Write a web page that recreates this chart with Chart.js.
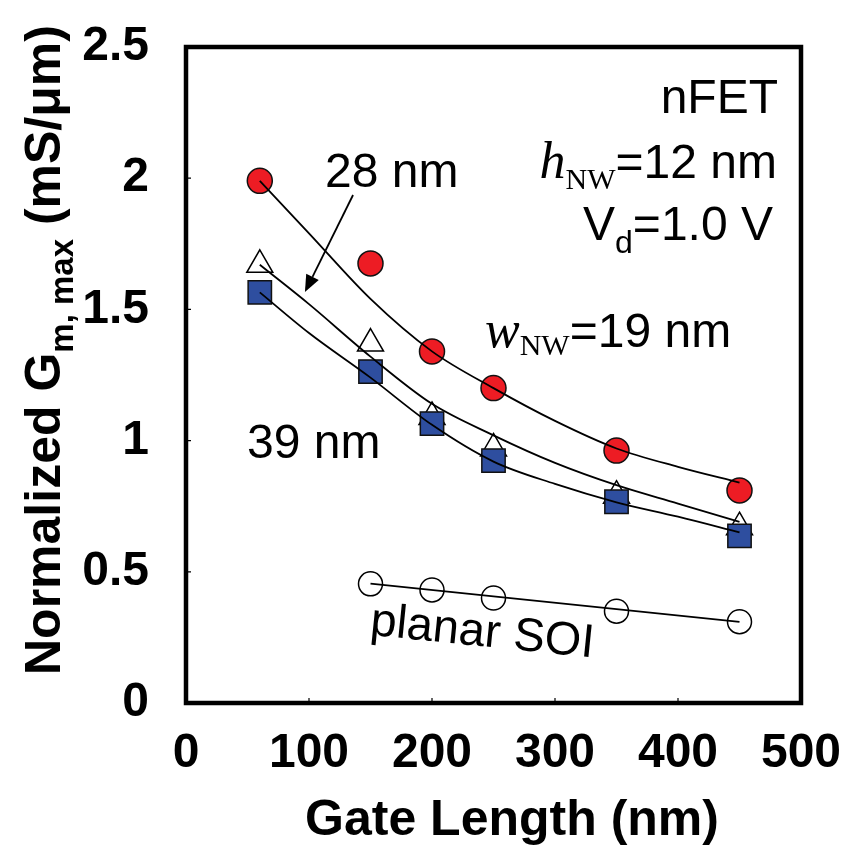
<!DOCTYPE html>
<html>
<head>
<meta charset="utf-8">
<script src="https://cdn.jsdelivr.net/npm/chart.js@4.4.1/dist/chart.umd.min.js"></script>
<style>
  html, body { margin: 0; padding: 0; background: #fff; }
  canvas { display: block; }
</style>
</head>
<body>
<canvas id="gmChart" width="851" height="852"></canvas>
<script>
// measured points (gate length in nm, Gm,max in mS/um)
const gateLength = [60, 150, 200, 250, 350, 450]
const gmW19 = [1.99, 1.675, 1.34, 1.20, 0.962, 0.81]
const gmW28 = [1.67, 1.37, 1.09, 0.97, 0.79, 0.67]
const gmW39 = [1.565, 1.263, 1.065, 0.924, 0.767, 0.637]

const planarGateLength = [150, 200, 250, 350, 450]
const gmPlanar = [0.454, 0.431, 0.40, 0.35, 0.31]

// fitted guide curves
const fitGateLength = [60, 100, 150, 200, 250, 300, 350, 400, 450]
const fitW19 = [1.99, 1.79, 1.54, 1.34, 1.20, 1.075, 0.97, 0.90, 0.84]
const fitW28 = [1.67, 1.52, 1.32, 1.14, 1.02, 0.915, 0.83, 0.76, 0.69]
const fitW39 = [1.565, 1.41, 1.24, 1.06, 0.92, 0.835, 0.765, 0.71, 0.65]
const planarFitGateLength = [150, 450]
const planarFit = [0.455, 0.309]

const xTicks = [0, 100, 200, 300, 400, 500]
const yTicks = [0, 0.5, 1, 1.5, 2, 2.5]

const SANS = 'Liberation Sans'
const SERIF = 'Liberation Serif'

function toPoints(xs, ys) {
    return xs.map((x, i) => ({x: x, y: ys[i]}))
}

function fitLine(xs, ys) {
    return {
        data: toPoints(xs, ys),
        showLine: true,
        borderColor: '#000',
        borderWidth: 1.8,
        pointRadius: 0,
        cubicInterpolationMode: 'monotone',
        fill: false,
    }
}

// draws a run of text pieces (font / baseline shift) starting at x
function drawParts(ctx, parts, x, y, align) {
    let total = 0
    parts.forEach(p => { ctx.font = p.font; p.w = ctx.measureText(p.text).width; total += p.w })
    let cx = align === 'right' ? x - total : (align === 'center' ? x - total / 2 : x)
    ctx.textAlign = 'left'
    ctx.textBaseline = 'alphabetic'
    parts.forEach(p => {
        ctx.font = p.font
        ctx.fillText(p.text, cx, y + (p.dy || 0))
        cx += p.w
    })
}

const decorations = {
    id: 'decorations',
    afterDraw(chart) {
        const ctx = chart.ctx
        const area = chart.chartArea
        const xs = chart.scales.x
        const ys = chart.scales.y
        const px = v => xs.getPixelForValue(v)
        const py = v => ys.getPixelForValue(v)

        ctx.save()
        ctx.fillStyle = '#000'
        ctx.strokeStyle = '#000'

        // inward tick marks
        ctx.lineWidth = 1.2
        ctx.beginPath()
        xTicks.slice(1, -1).forEach(v => { ctx.moveTo(px(v), area.bottom); ctx.lineTo(px(v), area.bottom - 5) })
        yTicks.slice(1, -1).forEach(v => { ctx.moveTo(area.left, py(v)); ctx.lineTo(area.left + 5, py(v)) })
        ctx.stroke()

        // frame
        ctx.lineWidth = 4.5
        ctx.strokeRect(area.left, area.top, area.right - area.left, area.bottom - area.top)

        // axis titles
        drawParts(ctx, [{text: 'Gate Length (nm)', font: 'bold 50px ' + SANS}], 512, 835, 'center')

        ctx.save()
        ctx.translate(60, 675)
        ctx.rotate(-Math.PI / 2)
        drawParts(ctx, [
            {text: 'Normalized G', font: 'bold 50px ' + SANS},
            {text: 'm, max', font: 'bold 33px ' + SANS, dy: 13},
            {text: ' (mS/\u03bcm)', font: 'bold 50px ' + SANS},
        ], 0, 0, 'left')
        ctx.restore()

        // annotations
        drawParts(ctx, [{text: 'nFET', font: '48px ' + SANS}], px(481.3), py(2.248), 'right')
        drawParts(ctx, [
            {text: 'h', font: 'italic 52px ' + SERIF},
            {text: 'NW', font: '30px ' + SERIF, dy: 11},
            {text: '=12 nm', font: '48px ' + SANS},
        ], px(480.5), py(2.001), 'right')
        drawParts(ctx, [
            {text: 'V', font: '48px ' + SANS},
            {text: 'd', font: '32px ' + SANS, dy: 13},
            {text: '=1.0 V', font: '48px ' + SANS},
        ], px(477.2), py(1.764), 'right')
        drawParts(ctx, [
            {text: 'w', font: 'italic 52px ' + SERIF},
            {text: 'NW', font: '30px ' + SERIF, dy: 8},
            {text: '=19 nm', font: '48px ' + SANS},
        ], px(243.1), py(1.357), 'left')
        drawParts(ctx, [{text: '28 nm', font: '48px ' + SANS}], px(113), py(1.966), 'left')
        drawParts(ctx, [{text: '39 nm', font: '48px ' + SANS}], px(49.6), py(0.934), 'left')

        ctx.save()
        ctx.translate(px(239.8), py(0.217))
        ctx.rotate(5.8 * Math.PI / 180)
        drawParts(ctx, [{text: 'planar SOI', font: '47px ' + SANS}], 0, 0, 'center')
        ctx.restore()

        // arrow from "28 nm" to its curve
        const x0 = px(135.8), y0 = py(1.936), x1 = px(96.7), y1 = py(1.566)
        const ang = Math.atan2(y1 - y0, x1 - x0)
        const headLen = 17, headHalf = 7
        ctx.lineWidth = 1.8
        ctx.beginPath()
        ctx.moveTo(x0, y0)
        ctx.lineTo(x1 - Math.cos(ang) * headLen, y1 - Math.sin(ang) * headLen)
        ctx.stroke()
        ctx.beginPath()
        ctx.moveTo(x1, y1)
        ctx.lineTo(x1 - Math.cos(ang) * headLen - Math.sin(ang) * headHalf, y1 - Math.sin(ang) * headLen + Math.cos(ang) * headHalf)
        ctx.lineTo(x1 - Math.cos(ang) * headLen + Math.sin(ang) * headHalf, y1 - Math.sin(ang) * headLen - Math.cos(ang) * headHalf)
        ctx.closePath()
        ctx.fill()

        ctx.restore()
    }
}

Chart.defaults.font.family = SANS
Chart.defaults.color = '#000'

const chart = new Chart(document.getElementById('gmChart'), {
    type: 'scatter',
    data: {
        datasets: [
            // curves first so they are drawn over the symbols
            fitLine(fitGateLength, fitW19),
            fitLine(fitGateLength, fitW28),
            fitLine(fitGateLength, fitW39),
            fitLine(planarFitGateLength, planarFit),
            {
                label: 'w 39 nm',
                data: toPoints(gateLength, gmW39),
                pointStyle: 'rect',
                pointRadius: 16.5,
                backgroundColor: '#2E4E9F',
                borderColor: '#111',
                borderWidth: 1.5,
            },
            {
                label: 'w 28 nm',
                data: toPoints(gateLength, gmW28),
                pointStyle: 'triangle',
                pointRadius: 15,
                backgroundColor: '#fff',
                borderColor: '#000',
                borderWidth: 1.5,
            },
            {
                label: 'w 19 nm',
                data: toPoints(gateLength, gmW19),
                pointStyle: 'circle',
                pointRadius: 12.5,
                backgroundColor: '#ED1C24',
                borderColor: '#111',
                borderWidth: 1.5,
            },
            {
                label: 'planar SOI',
                data: toPoints(planarGateLength, gmPlanar),
                pointStyle: 'circle',
                pointRadius: 12,
                backgroundColor: 'rgba(255,255,255,0)',
                borderColor: '#000',
                borderWidth: 1.5,
            },
        ],
    },
    options: {
        responsive: false,
        animation: false,
        devicePixelRatio: 1,
        layout: {padding: {top: 47, right: 50, left: 0, bottom: 0}},
        plugins: {legend: {display: false}, tooltip: {enabled: false}},
        scales: {
            x: {
                type: 'linear',
                min: 0,
                max: 500,
                grid: {display: false},
                border: {display: false},
                afterBuildTicks: scale => { scale.ticks = xTicks.map(v => ({value: v})) },
                afterFit: scale => {
                    scale.height = 149
                    scale.paddingLeft = 0
                    scale.paddingRight = 0
                },
                ticks: {
                    font: {size: 48, weight: 'bold'},
                    padding: 14,
                    maxRotation: 0,
                    autoSkip: false,
                },
            },
            y: {
                type: 'linear',
                min: 0,
                max: 2.5,
                grid: {display: false},
                border: {display: false},
                afterBuildTicks: scale => { scale.ticks = yTicks.map(v => ({value: v})) },
                afterFit: scale => {
                    scale.width = 186
                    scale.paddingTop = 0
                    scale.paddingBottom = 0
                },
                ticks: {
                    font: {size: 48, weight: 'bold'},
                    padding: 29,
                    autoSkip: false,
                    callback: v => String(v),
                },
            },
        },
    },
    plugins: [decorations],
})
</script>
</body>
</html>
